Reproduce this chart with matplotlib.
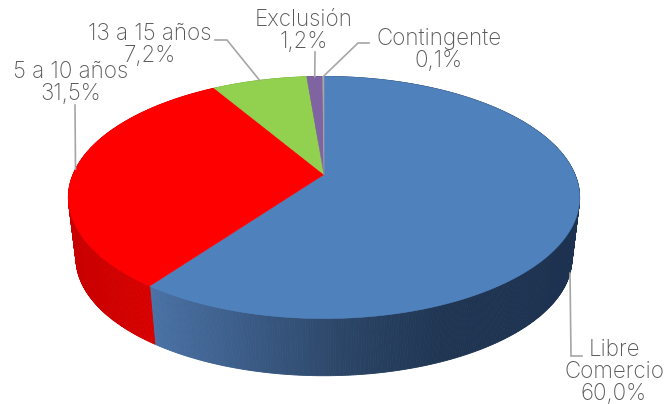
import numpy as np
import matplotlib
matplotlib.use("Agg")
import matplotlib.pyplot as plt
from matplotlib.colors import LinearSegmentedColormap
from matplotlib.patches import Polygon

categories = ["Libre Comercio", "5 a 10 años", "13 a 15 años", "Exclusión", "Contingente"]
values = [60.0, 31.5, 7.2, 1.2, 0.1]
top_colors = ["#4F81BD", "#FF0000", "#92D050", "#8064A2", "#A6A6A6"]
labels = ["Libre\nComercio\n60,0%", "5 a 10 años\n31,5%", "13 a 15 años\n7,2%", "Exclusión\n1,2%", "Contingente\n0,1%"]
label_pos = [(614, 372), (71, 83), (150, 45), (304, 31), (439, 50)]

W, H = 664, 404
CX, Y0, A, B, K = 324, 174.5, 251, 116.7, 0.19
Y0_BASE, F_BASE = 236, 0.97
GREY = "#A6A6A6"
TEXT = "#595959"

plt.rcParams["font.family"] = ["Inter", "Lato", "DejaVu Sans"]


def project(theta, base=False):
    s, c = np.sin(theta), np.cos(theta)
    d = 1 + K * c
    if base:
        return CX + F_BASE * A * s / d, Y0_BASE - F_BASE * B * c / d
    return CX + A * s / d, Y0 - B * c / d


fig = plt.figure(figsize=(W / 100, H / 100), dpi=100)
ax = fig.add_axes([0, 0, 1, 1])
ax.set_xlim(0, W)
ax.set_ylim(H, 0)
ax.axis("off")

frac = np.array(values) / sum(values)
edges = np.concatenate([[0], np.cumsum(frac)]) * 2 * np.pi

blue_wall = LinearSegmentedColormap.from_list(
    "blue_wall", [(0, "#4A72A6"), (0.45, "#2C4668"), (0.7, "#1F3552"), (1, "#1C3250")]
)
red_wall = LinearSegmentedColormap.from_list("red_wall", [(0, "#C80000"), (1, "#D80000")])
flat_walls = {2: "#76A83E", 3: "#5F4A7A", 4: "#808080"}

# side wall
for i in range(len(values)):
    n = max(int((edges[i + 1] - edges[i]) * 120), 2)
    ts = np.linspace(edges[i], edges[i + 1], n + 1)
    for a, b in zip(ts[:-1], ts[1:]):
        seg = np.linspace(a, b, 3)
        xt, yt = project(seg)
        xb, yb = project(seg[::-1], base=True)
        pts = np.column_stack([np.r_[xt, xb], np.r_[yt, yb]])
        xm = pts[:, 0].mean()
        if i == 0:
            col = blue_wall(np.clip((xm - 150) / 420, 0, 1))
        elif i == 1:
            col = red_wall(np.clip((xm - 70) / 85, 0, 1))
        else:
            col = flat_walls[i]
        ax.add_patch(Polygon(pts, closed=True, fc=col, ec=col, lw=0.6, zorder=2))

# top face
for i, col in enumerate(top_colors):
    ts = np.linspace(edges[i], edges[i + 1], max(int((edges[i + 1] - edges[i]) * 80), 3))
    x, y = project(ts)
    pts = np.column_stack([np.r_[CX, x], np.r_[Y0, y]])
    ax.add_patch(Polygon(pts, closed=True, fc=col, ec=col, lw=0.4, zorder=3))

# leader lines, starting from each slice's mid angle
mids = (edges[:-1] + edges[1:]) / 2
leaders = [
    (project(mids[0], base=True), [(571, 356), (582, 356)]),
    (project(mids[1]), [(75, 105)]),
    (project(mids[2]), [(227, 40), (215, 40)]),
    (project(mids[3]), [(315, 52)]),
    (project(mids[4]), [(358, 43), (369, 43)]),
]
for start, rest in leaders:
    xs = [start[0]] + [p[0] for p in rest]
    ys = [start[1]] + [p[1] for p in rest]
    ax.plot(xs, ys, color=GREY, lw=1.2, zorder=4, solid_joinstyle="miter")

for lab, (x, y) in zip(labels, label_pos):
    ax.text(x, y, lab, ha="center", va="center", fontsize=16.1, color=TEXT,
            fontweight="light", linespacing=1.0, zorder=5)

fig.savefig("out.png", dpi=100)
